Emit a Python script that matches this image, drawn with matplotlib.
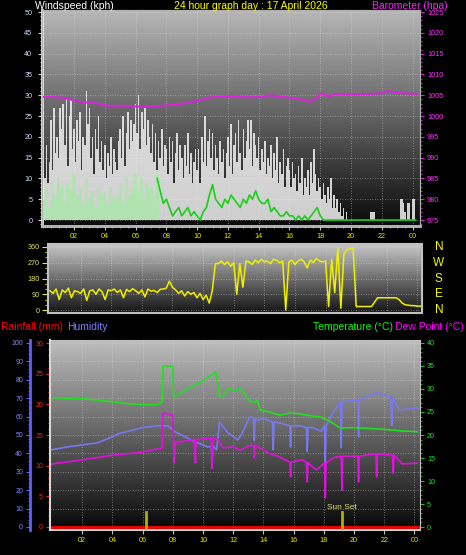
import numpy as np
import matplotlib.pyplot as plt
from matplotlib.ticker import MultipleLocator

plt.rcParams['font.family'] = ['Liberation Sans', 'DejaVu Sans']

# hour ticks shared by all panels
hour_ticks = [2, 4, 6, 8, 10, 12, 14, 16, 18, 20, 22, 24]
hour_labels = ['02', '04', '06', '08', '10', '12', '14', '16', '18', '20', '22', '00']

# gusts every 0.1 h
gust_t = np.round(np.arange(243) * 0.1, 1)
wind_gust = [11, 10, 18, 9, 14, 24, 12, 27, 16, 20,
             15, 27, 22, 28, 18, 29, 13, 25, 29, 17,
             22, 14, 24, 19, 26, 12, 20, 18, 31, 23,
             27, 15, 20, 11, 22, 17, 25, 14, 19, 12,
             18, 10, 16, 13, 20, 11, 17, 14, 12, 19,
             22, 15, 25, 13, 21, 26, 17, 24, 19, 23,
             28, 21, 30, 17, 26, 22, 27, 18, 24, 20,
             16, 23, 14, 21, 12, 19, 15, 22, 13, 18,
             17, 11, 20, 14, 19, 9, 16, 21, 12, 18,
             15, 10, 18, 13, 21, 11, 16, 9, 14, 17,
             12, 17, 9, 20, 14, 25, 13, 19, 22, 15,
             21, 12, 18, 15, 11, 19, 14, 17, 10, 16,
             20, 13, 23, 11, 18, 21, 14, 24, 16, 12,
             22, 15, 19, 24, 17, 24, 13, 21, 18, 15,
             20, 12, 17, 14, 19, 11, 15, 13, 18, 10,
             16, 12, 20, 9, 14, 11, 17, 8, 13, 15,
             12, 8, 14, 10, 11, 7, 13, 9, 15, 6,
             10, 8, 12, 6, 14, 9, 17, 11, 7, 10,
             8, 5, 9, 6, 4, 8, 5, 10, 3, 6,
             3, 5, 2, 4, 1, 3, 0, 2, 0, 0,
             0, 0, 0, 0, 0, 0, 0, 0, 0, 0,
             0, 0, 0, 2, 2, 2, 0, 0, 0, 0,
             0, 0, 0, 0, 0, 0, 0, 0, 0, 0,
             0, 0, 5, 5, 4, 2, 0, 4, 4, 0,
             5, 5, 0]

# average wind and direction every 0.2 h
wind_t = np.round(np.arange(122) * 0.2, 1)
wind_avg_early = [5, 8, 3, 9, 6, 10, 8, 4, 9, 7,
                  11, 6, 8, 4, 10, 5, 7, 3, 8, 6,
                  7, 4, 8, 5, 6, 9, 4, 10, 6, 8,
                  11, 7, 10, 5, 9, 8, 6, 11]
wind_avg_late = [10, 7, 4, 5, 3, 1, 2, 3, 1, 2,
                 3, 1, 2, 1, 0, 2, 3, 6, 8.5, 5,
                 4, 3, 5, 4, 6, 5, 4, 3, 5, 4,
                 6, 5, 7, 5, 4, 4, 5, 2, 3, 2,
                 1, 1, 2, 1, 1, 0, 1, 0, 1, 0,
                 1, 2, 3, 1, 0, 0, 0, 0, 0, 0,
                 0, 0, 0, 0, 0, 0, 0, 0, 0, 0,
                 0, 0, 0, 0, 0, 0, 0, 0, 0, 0,
                 0, 0, 0, 0, 0]
wind_dir = [110, 95, 120, 60, 115, 100, 125, 70, 110, 105,
            95, 120, 55, 110, 115, 90, 120, 105, 60, 115,
            110, 120, 100, 115, 70, 118, 105, 122, 110, 95,
            115, 75, 120, 108, 112, 100, 118, 120, 125, 165,
            130, 115, 95, 110, 80, 105, 90, 100, 70, 95,
            60, 85, 40, 110, 265, 265, 280, 260, 275, 250,
            270, 90, 265, 130, 280, 275, 260, 285, 270, 290,
            275, 280, 265, 290, 285, 270, 280, 0, 275, 285,
            260, 280, 290, 275, 240, 285, 270, 295, 280, 275,
            280, 20, 290, 100, 355, 10, 320, 345, 350, 355,
            20, 20, 20, 20, 20, 20, 45, 70, 70, 70,
            70, 70, 70, 70, 60, 40, 30, 28, 25, 25,
            22, 22]

baro_t = [0, 1, 1.5, 2.4, 3.2, 4.3, 5.3, 6.3, 7.3, 8.2, 9.2, 10.2, 11.0, 12.3, 13.3,
          14.3, 14.7, 15.6, 16.5, 17.3, 17.6, 18.1, 18.6, 18.8, 19.8, 20.8, 21.8, 22.4, 23.3, 24.3]
baro_v = [1004.6, 1004.5, 1004.2, 1003.4, 1003.2, 1002.4, 1002.5, 1002.3, 1002.4, 1002.6,
          1003.1, 1003.8, 1004.6, 1004.8, 1004.5, 1004.6, 1005.0, 1004.6, 1004.2, 1003.4,
          1004.0, 1005.5, 1004.6, 1005.3, 1005.2, 1005.3, 1005.4, 1006.0, 1005.5, 1005.3]

temp_t = [0, 1, 2, 3, 4, 5, 6, 7, 7.3, 7.35, 8.0, 8.05, 9, 10, 10.85, 11.1, 11.4, 11.7,
          12.1, 12.5, 12.8, 13.1, 13.4, 13.6, 13.8, 14.4, 15.1, 15.8, 16.4, 17.1, 17.8, 18.4,
          19.1, 19.8, 20.4, 21.1, 21.7, 22.4, 23.1, 24.2]
temp_v = [28.1, 28.0, 27.9, 27.6, 27.2, 26.8, 26.6, 26.6, 27.2, 35.0, 35.0, 28.2, 30.0, 31.8,
          33.7, 28.3, 28.7, 30.2, 29.6, 30.2, 28.7, 27.4, 27.0, 27.6, 25.4, 25.0, 24.3, 24.8,
          24.6, 24.2, 23.9, 23.0, 21.5, 21.6, 21.5, 21.4, 21.3, 21.1, 20.9, 20.7]

hum_t = [0, 1, 2, 3, 4, 4.5, 5.4, 6, 7, 7.7, 8.1, 9.3, 10.3, 10.55, 10.6, 10.65, 10.9, 11.1,
         11.6, 12.3, 12.6, 13.1, 13.35, 13.4, 13.45, 13.6, 14.0, 14.6, 14.65, 14.7, 15.1,
         15.75, 15.8, 15.85, 16.4, 16.85, 16.9, 16.95, 17.3, 17.8, 18.05, 18.1, 18.15, 18.6,
         19.1, 19.15, 19.2, 20.25, 20.3, 20.35, 21.5, 22.4, 22.45, 22.5, 22.55, 23.0, 24.2]
hum_v = [42, 43.5, 44.6, 45.7, 49, 51, 52.7, 54, 55, 55, 52, 47, 43.5, 44, 32.6, 44, 42, 57,
         51.6, 47.3, 51, 60, 59, 47, 59, 58, 59, 57, 42, 57, 56.5, 55, 43.5, 55, 55, 54, 41,
         54, 54, 52, 55, 35, 55, 62, 68, 43, 68, 69, 49, 69, 73, 70.6, 70, 55, 70, 63.6, 64.7]

dew_t = [0, 2, 4, 6, 7.3, 7.35, 8.0, 8.05, 8.1, 8.15, 9.0, 9.45, 9.5, 9.55, 10.55, 10.6,
         10.65, 11.0, 11.3, 12.0, 12.5, 13.0, 13.35, 13.4, 13.45, 14.4, 15.1, 15.75, 15.8,
         15.85, 16.6, 16.85, 16.9, 16.95, 17.5, 18.05, 18.1, 18.15, 18.6, 19.15, 19.2, 19.25,
         20.25, 20.3, 20.35, 21.45, 21.5, 21.55, 22.55, 22.6, 22.65, 23.2, 24.2]
dew_v = [13.7, 14.6, 15.6, 16.3, 17.2, 24.8, 24.3, 18.3, 13.9, 18.3, 18.8, 19.0, 14.0, 19.0,
         19.3, 12.7, 19.3, 19.0, 17.2, 17.4, 16.7, 17.6, 17.8, 15.0, 17.8, 16.0, 15.2, 14.1,
         10.9, 14.1, 14.6, 14.0, 9.8, 14.0, 12.4, 13.9, 6.3, 13.9, 15.0, 15.4, 8.0, 15.4,
         15.4, 9.8, 15.4, 15.9, 10.9, 15.9, 15.6, 11.7, 15.6, 13.7, 13.9]

rain_t = [0, 24.3]
rain_v = [0, 0]

sun_rise = 6.2
sun_set = 19.2

W, H = 466, 555
fig = plt.figure(figsize=(W / 100, H / 100), dpi=100, facecolor='black')


def panel(l, t, r, b):
    return fig.add_axes([l / W, 1 - b / H, (r - l) / W, (b - t) / H])


def ftext(x, y, s, **kw):
    fig.text(x / W, 1 - y / H, s, va='center', fontsize=7.5, **kw)


def shade(ax, top, bottom):
    g = np.linspace(top, bottom, 256).reshape(-1, 1)
    ax.imshow(g, extent=[0, 1, 0, 1], transform=ax.transAxes, aspect='auto',
              cmap='gray', vmin=0, vmax=1, zorder=0)


grid_kw = dict(color='#e0e0e0', linestyle=(0, (1, 2)), linewidth=0.6, alpha=0.55)

# ---------- wind speed + barometer ----------
ax1 = panel(42, 10, 420, 226)
shade(ax1, 0.72, 0.04)
ax1.bar(gust_t, wind_gust, width=0.1, color='#f2f2f2', alpha=0.85, linewidth=0, zorder=2)
ax1.bar(wind_t[:38], wind_avg_early, width=0.2, color='#aee6ae', alpha=0.9, linewidth=0, zorder=3)
ax1.plot(wind_t[37:], wind_avg_late, color='#18d018', lw=1.2, zorder=4)
ax1.set_xlim(-0.08, 24.48)
ax1.set_ylim(-1.44, 50.5)
ax1.set_yticks(range(0, 51, 5))
ax1.yaxis.set_minor_locator(MultipleLocator(1))
ax1.set_xticks(hour_ticks)
ax1.set_xticklabels(hour_labels)
ax1.xaxis.set_minor_locator(MultipleLocator(0.5))
ax1.grid(True, **grid_kw)
ax1.tick_params(axis='y', which='major', color='#d0d0d0', labelcolor='#d0dcff',
                length=3, labelsize=5.2, pad=4)
ax1.tick_params(axis='y', which='minor', color='#d0d0d0', length=1.5)
ax1.tick_params(axis='x', which='major', color='#c0c0c0', labelcolor='#e8e800',
                length=3, labelsize=5.2, pad=2)
ax1.tick_params(axis='x', which='minor', color='#c0c0c0', length=1.5)

baro = ax1.twinx()
baro.plot(baro_t, baro_v, color='#e020e0', lw=1.4)
baro.set_ylim(973.56, 1025.5)
baro.set_yticks(range(975, 1026, 5))
baro.yaxis.set_minor_locator(MultipleLocator(1))
baro.tick_params(axis='y', which='major', color='#e020e0', labelcolor='#ff30ff',
                 length=3, labelsize=5.2, pad=2)
baro.tick_params(axis='y', which='minor', color='#e020e0', length=1.5)

for a in (ax1, baro):
    for s in a.spines.values():
        s.set_color('#b0b0b0')
ax1.spines['left'].set_color('#e8e8e8')
ax1.spines['left'].set_linewidth(2)
ax1.spines['bottom'].set_color('#c8c8c8')
ax1.spines['bottom'].set_linewidth(2)

# ---------- wind direction ----------
ax2 = panel(48, 244, 422, 313)
shade(ax2, 0.78, 0.08)
ax2.plot(wind_t, wind_dir, color='#f0f000', lw=1.1, zorder=3)
ax2.set_xlim(-0.13, 24.3)
ax2.set_ylim(-17, 377)
ax2.set_yticks([0, 90, 180, 270, 360])
ax2.yaxis.set_minor_locator(MultipleLocator(30))
ax2.set_xticks(hour_ticks)
ax2.grid(True, **grid_kw)
ax2.tick_params(axis='x', labelbottom=False, length=0)
ax2.tick_params(axis='y', which='major', color='#e8e840', labelcolor='#e8e860',
                length=4, labelsize=5.2, pad=2)
ax2.tick_params(axis='y', which='minor', color='#e8e840', length=2)
for s in ax2.spines.values():
    s.set_color('#c0c0c0')
    s.set_linewidth(1.5)
for deg, letter in zip([360, 270, 180, 90, 0], ['N', 'W', 'S', 'E', 'N']):
    ax2.text(1.045, deg, letter, transform=ax2.get_yaxis_transform(), color='#f8f800',
             fontsize=8.5, ha='center', va='center')

# ---------- humidity / temperature / dew point / rain ----------
ax3 = panel(50, 340, 420, 530)
shade(ax3, 0.74, 0.03)
ax3.plot(hum_t, hum_v, color='#7878f0', lw=1.2, zorder=3)
ax3.set_xlim(-0.13, 24.37)
ax3.set_ylim(-1.63, 101.6)
ax3.set_yticks(range(0, 101, 10))
ax3.yaxis.set_minor_locator(MultipleLocator(2))
ax3.set_xticks(hour_ticks)
ax3.set_xticklabels(hour_labels)
ax3.grid(True, **grid_kw)
ax3.spines['left'].set_position(('outward', 14.4))
ax3.spines['left'].set_color('#6060ff')
ax3.spines['left'].set_linewidth(2)
ax3.spines['bottom'].set_color('#d0d0d0')
ax3.spines['bottom'].set_linewidth(1.5)
ax3.spines['top'].set_color('#c0c0c0')
ax3.spines['right'].set_visible(False)
ax3.tick_params(axis='y', which='major', color='#6060ff', labelcolor='#8888ff',
                length=3, labelsize=5, pad=2)
ax3.tick_params(axis='y', which='minor', color='#6060ff', length=1.5)
ax3.tick_params(axis='x', color='#c0c0c0', labelcolor='#e8e800', length=3,
                labelsize=5.2, pad=2)

axT = ax3.twinx()
axT.plot(temp_t, temp_v, color='#20e020', lw=1.2, zorder=3)
axT.plot(dew_t, dew_v, color='#e010e0', lw=1.2, zorder=3)
axT.set_ylim(-0.65, 40.65)
axT.set_yticks(range(0, 41, 5))
axT.yaxis.set_minor_locator(MultipleLocator(1))
axT.tick_params(axis='y', which='major', color='#20c020', labelcolor='#20e020',
                length=3, labelsize=5.2, pad=2)
axT.tick_params(axis='y', which='minor', color='#20c020', length=1.5)
for k in ('left', 'top', 'bottom'):
    axT.spines[k].set_visible(False)
axT.spines['right'].set_color('#c0c0c0')

axR = ax3.twinx()
axR.plot(rain_t, rain_v, color='#ff0000', lw=2, zorder=3)
axR.set_ylim(-0.49, 30.5)
axR.yaxis.tick_left()
axR.set_yticks(range(0, 31, 5))
axR.yaxis.set_minor_locator(MultipleLocator(1))
axR.tick_params(axis='y', which='major', color='#ff2020', labelcolor='#ff2020',
                length=3, labelsize=5, pad=2)
axR.tick_params(axis='y', which='minor', color='#ff2020', length=1.5)
for k in ('right', 'top', 'bottom'):
    axR.spines[k].set_visible(False)
axR.spines['left'].set_color('#d8d8d8')
axR.spines['left'].set_linewidth(1.5)
for t in (sun_rise, sun_set):
    axR.axvline(t, ymin=0, ymax=0.095, color='#b0b000', lw=2, zorder=4)
axR.text(sun_set, 0.116, 'Sun Set', transform=axR.get_xaxis_transform(),
         color='#e0e070', fontsize=6, ha='center', va='center')

# ---------- headings ----------
ftext(35, 6, 'Windspeed (kph)', color='white', ha='left')
ftext(251, 6, '24 hour graph day : 17 April 2026', color='#ffff00', ha='center')
ftext(372, 6, 'Barometer (hpa)', color='#ff20ff', ha='left')
ftext(1, 327, 'Rainfall (mm)', color='#ff0000', ha='left')
ftext(67, 327, 'Humidity', color='#8080ff', ha='left')
ftext(313, 327, 'Temperature (\u00b0C)', color='#00ff00', ha='left')
ftext(395, 327, 'Dew Point (\u00b0C)', color='#ff00ff', ha='left')

fig.savefig('out.png', dpi=100, facecolor='black')
